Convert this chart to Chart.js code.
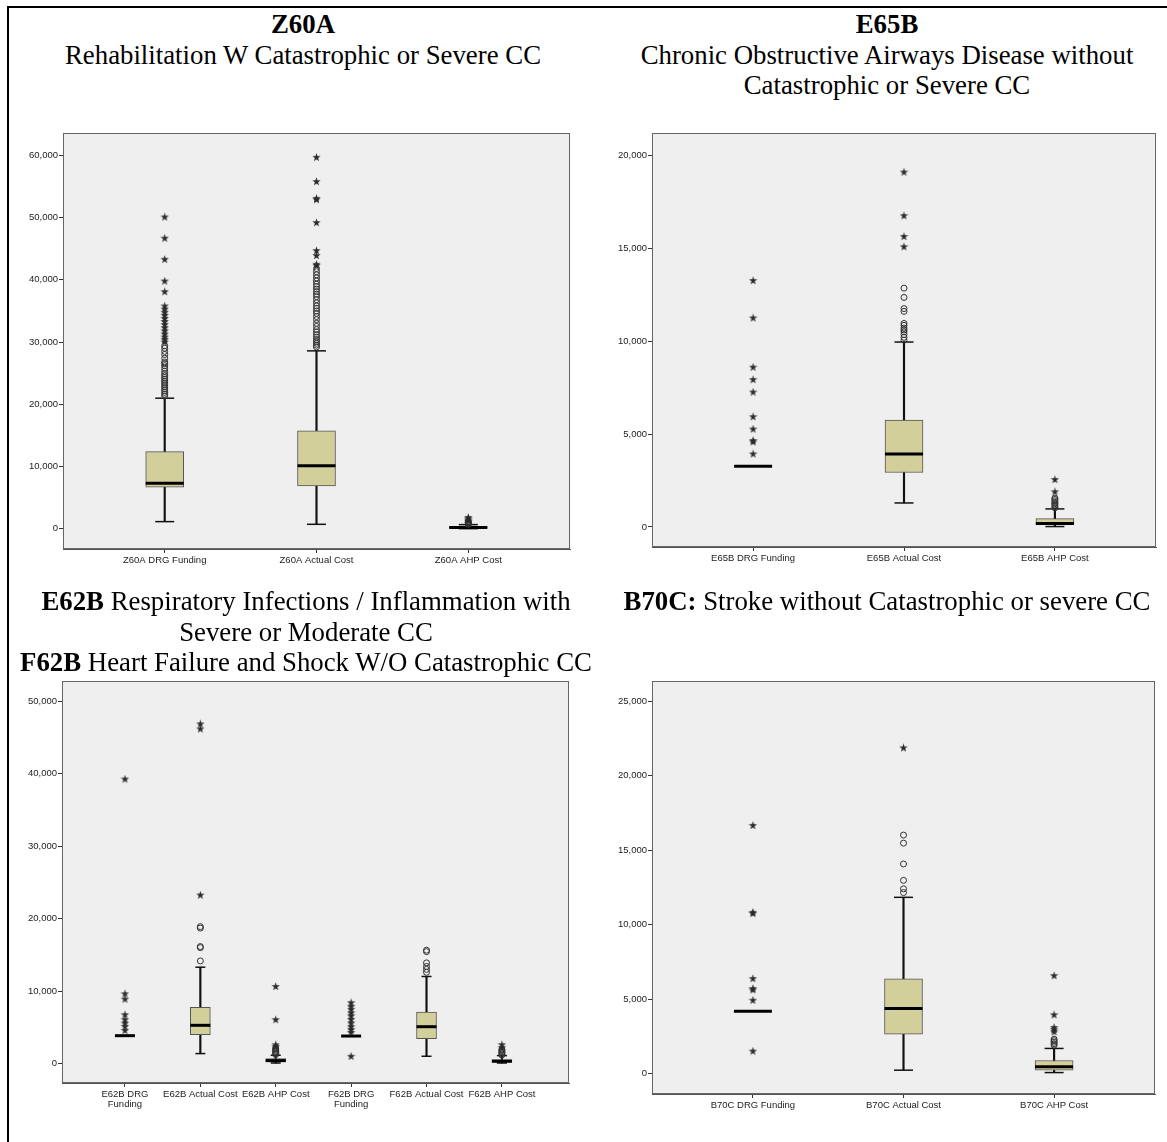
<!DOCTYPE html>
<html>
<head>
<meta charset="utf-8">
<script src="https://cdn.jsdelivr.net/npm/chart.js@4.4.1/dist/chart.umd.min.js"></script>
<style>
  html, body { margin: 0; padding: 0; background: #fff; }
  body { width: 1167px; height: 1142px; position: relative; overflow: hidden; }
  #outer { position: absolute; left: 7px; top: 6px; width: 1200px; height: 1200px;
           border-left: 2px solid #000; border-top: 2px solid #000; }
  .title { position: absolute; text-align: center; font-family: "Liberation Serif", "Times New Roman", serif;
           font-size: 26.8px; line-height: 30.5px; color: #000; white-space: nowrap; z-index: 2; }
  .title b { font-weight: bold; }
  canvas { position: absolute; }
</style>
</head>
<body>
<div id="outer"></div>
<div class="title" style="left:10px; width:586px; top:9px;"><b>Z60A</b><br>Rehabilitation W Catastrophic or Severe CC</div>
<div class="title" style="left:587px; width:600px; top:9px;"><b>E65B</b><br>Chronic Obstructive Airways Disease without<br>Catastrophic or Severe CC</div>
<div class="title" style="left:0px; width:612px; top:586px;"><b>E62B</b> Respiratory Infections / Inflammation with<br>Severe or Moderate CC<br><b>F62B</b> Heart Failure and Shock W/O Catastrophic CC</div>
<div class="title" style="left:587px; width:600px; top:586px;"><b>B70C:</b> Stroke without Catastrophic or severe CC</div>

<canvas id="c1" width="562" height="464" style="left:10px; top:125px;"></canvas>
<canvas id="c2" width="559" height="462" style="left:599px; top:125px;"></canvas>
<canvas id="c3" width="562" height="450" style="left:9px; top:673px;"></canvas>
<canvas id="c4" width="558" height="461" style="left:599px; top:673px;"></canvas>

<script>
// ---------------- DATA ----------------
// Z60A
const z60aLabels  = ['Z60A DRG Funding', 'Z60A Actual Cost', 'Z60A AHP Cost'];
const z60aLow     = [1130, 700, 0];
const z60aQ1      = [6650, 6860, 80];
const z60aMedian  = [7290, 10130, 180];
const z60aQ3      = [12390, 15710, 330];
const z60aHigh    = [20970, 28580, 650];
const z60aCircles = [
  [21300, 21600, 21900, 22200, 22500, 22800, 23100, 23400, 23700, 24000, 24300, 24600, 24900, 25300, 25800, 26200, 26500, 26800, 27400, 28000, 28500, 29000, 29400],
  [29200, 29500, 29800, 30100, 30400, 30800, 31200, 31600, 32000, 32500, 33000, 33600, 34100, 34600, 35000, 35400, 35800, 36300, 36800, 37300, 37700, 38100, 38500, 38900, 39300, 39800, 40300, 40800, 41300, 41800],
  [700, 800, 900, 1000, 1100]
];
const z60aStars = [
  [30000, 30400, 30800, 31300, 31800, 32300, 32800, 33300, 33800, 34300, 34800, 35300, 35800, 38100, 39800, 43300, 46700, 50100],
  [42300, 42500, 43900, 44700, 49200, 52900, 53100, 55800, 59700],
  [1200, 1400, 1600, 1800]
];
const z60aTicks = [0, 10000, 20000, 30000, 40000, 50000, 60000];

// E65B
const e65bLabels  = ['E65B DRG Funding', 'E65B Actual Cost', 'E65B AHP Cost'];
const e65bLow     = [3270, 1290, 20];
const e65bQ1      = [3270, 2930, 120];
const e65bMedian  = [3270, 3930, 190];
const e65bQ3      = [3270, 5750, 450];
const e65bHigh    = [3270, 9950, 970];
const e65bCircles = [
  [],
  [10050, 10200, 10350, 10500, 10600, 10700, 10850, 10950, 11600, 11750, 12350, 12850],
  [1030, 1100, 1180, 1250, 1320, 1400, 1480, 1550]
];
const e65bStars = [
  [3930, 4580, 4650, 5270, 5930, 7260, 7930, 8600, 11250, 13260],
  [15080, 15630, 16750, 19100],
  [1890, 2550]
];
const e65bTicks = [0, 5000, 10000, 15000, 20000];

// E62B / F62B
const e62bLabels  = [['E62B DRG', 'Funding'], 'E62B Actual Cost', 'E62B AHP Cost', ['F62B DRG', 'Funding'], 'F62B Actual Cost', 'F62B AHP Cost'];
const e62bLow     = [3850, 1380, 80, 3800, 1010, 80];
const e62bQ1      = [3850, 3990, 220, 3800, 3440, 180];
const e62bMedian  = [3850, 5280, 410, 3800, 5090, 320];
const e62bQ3      = [3850, 7750, 690, 3800, 7110, 550];
const e62bHigh    = [3850, 13300, 1150, 3800, 12020, 1100];
const e62bCircles = [
  [],
  [14170, 16000, 16150, 18700, 18900],
  [1250, 1400, 1550, 1700, 1850, 2000, 2150],
  [],
  [12600, 13000, 13400, 13900, 15450, 15650],
  [1200, 1350, 1500, 1650, 1800, 1950]
];
const e62bStars = [
  [4580, 5140, 5600, 6060, 6740, 8900, 9630, 39270],
  [23260, 46190, 46880],
  [2350, 2600, 6060, 10640],
  [1010, 4300, 4700, 5100, 5600, 6100, 6600, 7000, 7500, 7900, 8400],
  [],
  [2200, 2600]
];
const e62bTicks = [0, 10000, 20000, 30000, 40000, 50000];

// B70C
const b70cLabels  = ['B70C DRG Funding', 'B70C Actual Cost', 'B70C AHP Cost'];
const b70cLow     = [4180, 220, 60];
const b70cQ1      = [4180, 2640, 220];
const b70cMedian  = [4180, 4360, 450];
const b70cQ3      = [4180, 6350, 870];
const b70cHigh    = [4180, 11830, 1680];
const b70cCircles = [
  [],
  [12150, 12400, 12970, 14070, 15470, 16010],
  [1900, 2000, 2100, 2200, 2300]
];
const b70cStars = [
  [1500, 4920, 5620, 5700, 6370, 10750, 10820, 16660],
  [21870],
  [2800, 2950, 3090, 3940, 6570]
];
const b70cTicks = [0, 5000, 10000, 15000, 20000, 25000];

// ---------------- RENDERING ----------------
function makeStar() {
  const c = document.createElement('canvas');
  c.width = 9; c.height = 9;
  const g = c.getContext('2d');
  g.fillStyle = '#2a2a2a';
  g.beginPath();
  for (let k = 0; k < 10; k++) {
    const r = (k % 2 === 0) ? 4.4 : 1.7;
    const a = -Math.PI / 2 + k * Math.PI / 5;
    const px = 4.5 + r * Math.cos(a), py = 4.7 + r * Math.sin(a);
    if (k === 0) g.moveTo(px, py); else g.lineTo(px, py);
  }
  g.closePath();
  g.fill();
  return c;
}
const starImg = makeStar();

const framePlugin = {
  id: 'frame',
  beforeDraw(chart) {
    const { ctx, chartArea: a } = chart;
    ctx.save();
    ctx.fillStyle = '#efefef';
    ctx.fillRect(a.left, a.top, a.right - a.left, a.bottom - a.top);
    ctx.restore();
  },
  afterDraw(chart) {
    const { ctx, chartArea: a } = chart;
    ctx.save();
    ctx.strokeStyle = '#666';
    ctx.lineWidth = 1;
    ctx.strokeRect(Math.round(a.left) + 0.5, Math.round(a.top) + 0.5,
                   Math.round(a.right - a.left) - 1, Math.round(a.bottom - a.top) - 1);
    ctx.restore();
  }
};

function zeroPad(s) { s.paddingLeft = 0; s.paddingRight = 0; s.paddingTop = 0; s.paddingBottom = 0; }

function panel(id, labels, low, q1, med, q3, high, circles, stars, ticks, yMin, yMax, xMin, xMax, boxW) {
  const xs = labels.map((_, i) => i);
  const datasets = [
    { type: 'bar', label: 'whisker', order: 5, grouped: false, barThickness: 1.5,
      backgroundColor: '#111', borderWidth: 0,
      data: xs.map(i => ({ x: i, y: [low[i], high[i]] })) },
    { type: 'bar', label: 'box', order: 4, grouped: false, barThickness: boxW,
      backgroundColor: '#d3cf9a', borderColor: '#555', borderWidth: 1, borderSkipped: false,
      data: xs.map(i => ({ x: i, y: [q1[i], q3[i]] })) },
    { type: 'scatter', label: 'caps', order: 3, pointStyle: 'line', pointRadius: boxW / 4,
      pointBorderWidth: 1.5, pointBorderColor: '#111', pointBackgroundColor: '#111',
      data: xs.flatMap(i => [{ x: i, y: low[i] }, { x: i, y: high[i] }]) },
    { type: 'scatter', label: 'median', order: 2, pointStyle: 'line', pointRadius: boxW / 2,
      pointBorderWidth: 3, pointBorderColor: '#000', pointBackgroundColor: '#000',
      data: xs.map(i => ({ x: i, y: med[i] })) },
    { type: 'scatter', label: 'outliers', order: 1, pointStyle: 'circle', pointRadius: 3,
      pointBorderWidth: 1, pointBorderColor: '#333', pointBackgroundColor: 'rgba(0,0,0,0)',
      data: xs.flatMap(i => circles[i].map(v => ({ x: i, y: v }))) },
    { type: 'scatter', label: 'extremes', order: 0, pointStyle: starImg, pointRadius: 4,
      data: xs.flatMap(i => stars[i].map(v => ({ x: i, y: v }))) }
  ];
  new Chart(document.getElementById(id), {
    type: 'scatter',
    data: { datasets },
    plugins: [framePlugin],
    options: {
      responsive: false,
      animation: false,
      events: [],
      devicePixelRatio: 1,
      layout: { autoPadding: false, padding: { top: 8, right: 2, left: 0, bottom: 0 } },
      plugins: { legend: { display: false }, tooltip: { enabled: false }, title: { display: false } },
      scales: {
        x: {
          type: 'linear', min: xMin, max: xMax, offset: false,
          afterBuildTicks: ax => { ax.ticks = xs.map(v => ({ value: v })); },
          afterFit: s => { s.height = 40; zeroPad(s); },
          grid: { display: true, drawOnChartArea: false, drawTicks: true, tickLength: 4, color: '#333', offset: false },
          border: { display: true, color: '#555' },
          ticks: {
            autoSkip: false, maxRotation: 0, minRotation: 0, padding: 3, color: '#222',
            font: { family: '"Liberation Sans", Arial, sans-serif', size: 9.5, lineHeight: 1.0 },
            callback: v => labels[v]
          }
        },
        y: {
          type: 'linear', min: yMin, max: yMax,
          afterBuildTicks: ax => { ax.ticks = ticks.map(v => ({ value: v })); },
          afterFit: s => { s.width = 53; zeroPad(s); },
          grid: { display: true, drawOnChartArea: false, drawTicks: true, tickLength: 4, color: '#333' },
          border: { display: true, color: '#555' },
          ticks: {
            padding: 1, color: '#222',
            font: { family: '"Liberation Sans", Arial, sans-serif', size: 9.5 },
            callback: v => v.toLocaleString('en-US')
          }
        }
      }
    }
  });
}

panel('c1', z60aLabels, z60aLow, z60aQ1, z60aMedian, z60aQ3, z60aHigh, z60aCircles, z60aStars, z60aTicks, -3270, 63600, -0.67, 2.67, 38);
panel('c2', e65bLabels, e65bLow, e65bQ1, e65bMedian, e65bQ3, e65bHigh, e65bCircles, e65bStars, e65bTicks, -1080, 21200, -0.67, 2.67, 38);
panel('c3', e62bLabels, e62bLow, e62bQ1, e62bMedian, e62bQ3, e62bHigh, e62bCircles, e62bStars, e62bTicks, -2680, 52800, -0.835, 5.89, 20);
panel('c4', b70cLabels, b70cLow, b70cQ1, b70cMedian, b70cQ3, b70cHigh, b70cCircles, b70cStars, b70cTicks, -1380, 26360, -0.67, 2.67, 38);
</script>
</body>
</html>
